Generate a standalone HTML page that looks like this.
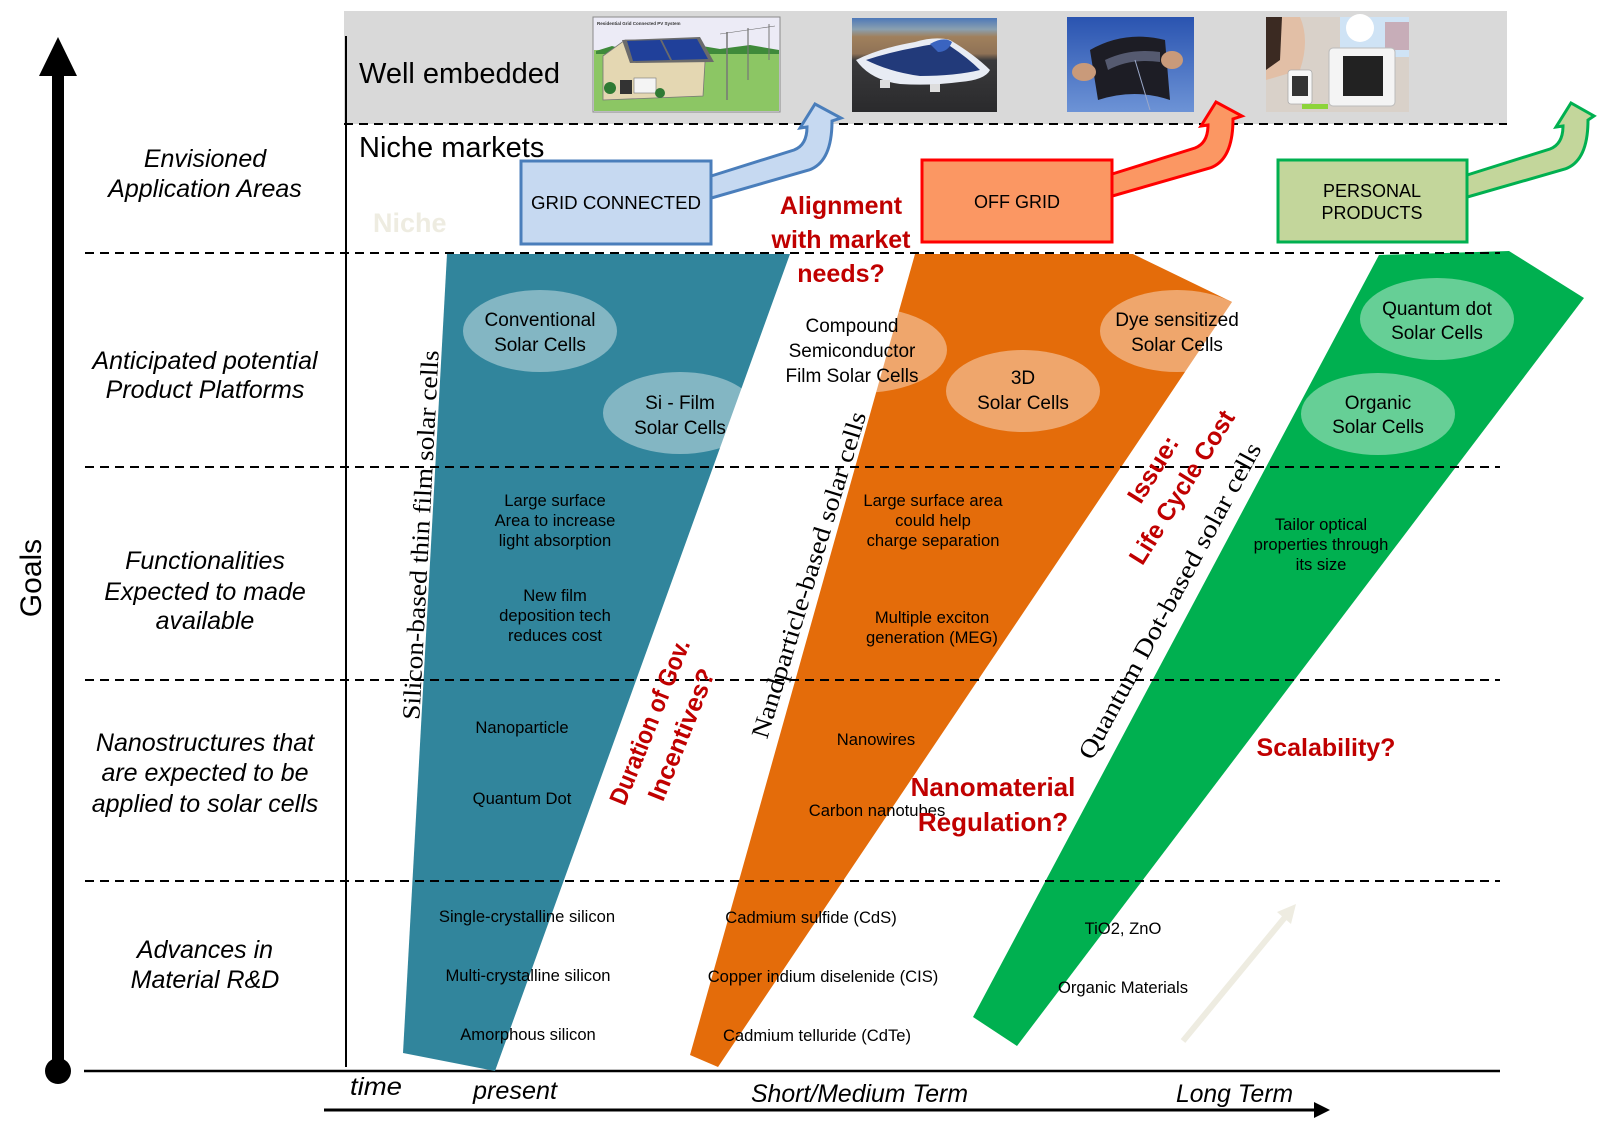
<!DOCTYPE html>
<html>
<head>
<meta charset="utf-8">
<style>
  html,body{margin:0;padding:0;background:#fff;}
  svg{display:block;}
  .sans{font-family:"Liberation Sans",Arial,sans-serif;}
  .serif{font-family:"Liberation Serif","Times New Roman",serif;}
</style>
</head>
<body>
<svg width="1597" height="1123" viewBox="0 0 1597 1123" xmlns="http://www.w3.org/2000/svg">
  <defs>
    <linearGradient id="sky3" x1="0" y1="0" x2="0" y2="1">
      <stop offset="0" stop-color="#2a54b0"/>
      <stop offset="1" stop-color="#6d93d6"/>
    </linearGradient>
    <linearGradient id="sky2" x1="0" y1="0" x2="0" y2="1">
      <stop offset="0" stop-color="#4d78b8"/>
      <stop offset="0.12" stop-color="#8aa0b0"/>
      <stop offset="0.2" stop-color="#a0805c"/>
      <stop offset="0.38" stop-color="#8f7256"/>
      <stop offset="0.45" stop-color="#3a3a3c"/>
      <stop offset="1" stop-color="#2a2a2c"/>
    </linearGradient>
  </defs>

  <!-- Gray well-embedded band -->
  <rect x="344" y="11" width="1163" height="113" fill="#d9d9d9"/>

  <!-- Image 1: residential grid connected -->
  <g>
    <rect x="593" y="17" width="187" height="95" fill="#ecebf6" stroke="#8a8a8a" stroke-width="1"/>
    <rect x="594" y="50" width="185" height="61" fill="#8cc664"/>
    <polygon points="596,51 612,46 626,50 640,45 660,49 690,44 720,49 750,45 779,50 779,54 596,54" fill="#3f8a3a"/>
    <polygon points="603,56 625,40 700,40 705,62 703,96 603,100" fill="#e4d7b2" stroke="#777" stroke-width="0.8"/>
    <polygon points="622,40 700,37 714,62 630,63" fill="#6b6b6b"/>
    <polygon points="627,41 660,40 670,60 633,61" fill="#20409a"/>
    <polygon points="662,40 697,39 708,59 672,60" fill="#20409a"/>
    <rect x="620" y="80" width="12" height="14" fill="#333"/>
    <rect x="634" y="78" width="22" height="15" fill="#f4f4f4" stroke="#777" stroke-width="0.6"/>
    <circle cx="610" cy="88" r="6" fill="#2f7a34"/>
    <circle cx="660" cy="93" r="5" fill="#2f7a34"/>
    <line x1="727" y1="32" x2="727" y2="100" stroke="#777" stroke-width="1.5"/>
    <line x1="748" y1="28" x2="748" y2="80" stroke="#777" stroke-width="1.2"/>
    <line x1="769" y1="24" x2="769" y2="60" stroke="#777" stroke-width="1"/>
    <line x1="720" y1="34" x2="775" y2="26" stroke="#666" stroke-width="0.6"/>
    <text x="597" y="25" class="sans" font-size="4.5" font-weight="bold" fill="#333">Residential Grid Connected PV System</text>
  </g>

  <!-- Image 2: solar car -->
  <g>
    <rect x="852" y="18" width="145" height="94" fill="url(#sky2)"/>
    <path d="M856,60 Q880,48 915,42 Q935,36 950,40 Q975,55 990,70 Q985,80 960,82 Q930,86 900,84 Q870,80 856,60 Z" fill="#e8ecf4"/>
    <path d="M866,60 Q890,52 918,47 Q938,42 950,46 Q968,58 980,70 Q955,76 920,76 Q890,72 866,60 Z" fill="#223a7a"/>
    <path d="M930,44 Q944,36 952,42 Q948,52 938,52 Z" fill="#3a64c0"/>
    <rect x="880" y="80" width="10" height="8" fill="#ddd"/>
    <rect x="930" y="84" width="10" height="8" fill="#ddd"/>
  </g>

  <!-- Image 3: flexible film -->
  <g>
    <rect x="1067" y="17" width="127" height="95" fill="url(#sky3)"/>
    <path d="M1090,50 Q1125,30 1165,40 L1170,100 Q1135,88 1098,100 Z" fill="#1d1d25"/>
    <path d="M1105,60 Q1130,48 1160,52 L1160,62 Q1130,58 1108,70 Z" fill="#555a70"/>
    <line x1="1135" y1="60" x2="1150" y2="110" stroke="#9aa8c8" stroke-width="1"/>
    <ellipse cx="1084" cy="72" rx="12" ry="9" fill="#c99a7a"/>
    <ellipse cx="1172" cy="60" rx="11" ry="9" fill="#c99a7a"/>
  </g>

  <!-- Image 4: personal products -->
  <g>
    <rect x="1266" y="17" width="143" height="95" fill="#d9d1c9"/>
    <rect x="1340" y="17" width="69" height="40" fill="#cfe3f5"/>
    <circle cx="1360" cy="28" r="14" fill="#ffffff"/>
    <path d="M1266,17 L1300,17 Q1310,40 1300,70 L1266,80 Z" fill="#e2bfa6"/>
    <path d="M1266,17 L1282,17 L1280,60 L1266,70 Z" fill="#3b2a22"/>
    <rect x="1385" y="22" width="24" height="28" fill="#c7adb8"/>
    <rect x="1329" y="48" width="66" height="58" rx="4" fill="#f4f4f4" stroke="#bbb" stroke-width="1"/>
    <rect x="1343" y="56" width="40" height="40" fill="#222"/>
    <rect x="1288" y="70" width="24" height="34" rx="3" fill="#f6f6f6" stroke="#aaa" stroke-width="0.8"/>
    <rect x="1292" y="76" width="16" height="20" fill="#333"/>
    <rect x="1302" y="104" width="26" height="5" fill="#8cd43a"/>
  </g>

  <!-- Axes -->
  <line x1="346" y1="36" x2="346" y2="1067" stroke="#000" stroke-width="2"/>
  <line x1="84" y1="1071" x2="1500" y2="1071" stroke="#000" stroke-width="2.5"/>

  <!-- Goals arrow -->
  <rect x="52" y="72" width="12" height="1000" fill="#000"/>
  <polygon points="58,37 39,76 77,76" fill="#000"/>
  <circle cx="58" cy="1071" r="13" fill="#000"/>
  <text transform="translate(41,578) rotate(-90)" text-anchor="middle" class="sans" font-size="30" fill="#000">Goals</text>

  <!-- Time arrow -->
  <line x1="324" y1="1110" x2="1316" y2="1110" stroke="#000" stroke-width="3"/>
  <polygon points="1330,1110 1314,1102 1314,1118" fill="#000"/>

  <!-- Colored trapezoids -->
  <polygon points="447,254 790,254 495,1071 403,1053" fill="#31859c"/>
  <polygon points="915,254 1133,254 1232,302 718,1067 690,1055" fill="#e46c0a"/>
  <polygon points="1379,255 1509,251 1584,298 1017,1046 973,1017" fill="#00b050"/>

  <!-- faint arrow bottom right -->
  <line x1="1183" y1="1041" x2="1286" y2="916" stroke="#eeece1" stroke-width="6"/>
  <polygon points="1296,904 1277,912 1291,924" fill="#eeece1"/>

  <!-- Dashed lines -->
  <g stroke="#000" stroke-width="2" stroke-dasharray="9,6" fill="none">
    <line x1="344" y1="124" x2="1507" y2="124"/>
    <line x1="85" y1="253" x2="1500" y2="253"/>
    <line x1="85" y1="467" x2="1500" y2="467"/>
    <line x1="85" y1="680" x2="1500" y2="680"/>
    <line x1="85" y1="881" x2="1500" y2="881"/>
  </g>

  <!-- Ellipses (semi-transparent white) -->
  <g fill="#ffffff" fill-opacity="0.4">
    <ellipse cx="540" cy="331" rx="77" ry="41"/>
    <ellipse cx="680" cy="413" rx="77" ry="41"/>
    <ellipse cx="860" cy="350" rx="87" ry="43"/>
    <ellipse cx="1023" cy="391" rx="77" ry="41"/>
    <ellipse cx="1177" cy="331" rx="77" ry="41"/>
    <ellipse cx="1437" cy="319" rx="77" ry="41"/>
    <ellipse cx="1378" cy="414" rx="77" ry="41"/>
  </g>

  <!-- Application arrows -->
  <path d="M708 177 L794 150 Q807 145 807 127 L800 128 L815 104 L841 118 L832 121 Q832 162 809 170 L708 199 Z" fill="#c6d9f1" stroke="#4a7ebb" stroke-width="3" stroke-linejoin="miter"/>
  <path d="M1109 175 L1195 148 Q1208 143 1208 125 L1201 126 L1216 102 L1242 116 L1233 119 Q1233 160 1210 168 L1109 197 Z" fill="#fb9763" stroke="#ff0000" stroke-width="3"/>
  <path d="M1464 176 L1550 149 Q1563 144 1563 126 L1556 127 L1571 103 L1594 116 L1588 120 Q1588 161 1565 169 L1464 198 Z" fill="#c3d69b" stroke="#00b050" stroke-width="3"/>

  <!-- Application boxes -->
  <rect x="521" y="161" width="190" height="83" fill="#c6d9f1" stroke="#4a7ebb" stroke-width="3"/>
  <rect x="922" y="160" width="190" height="82" fill="#fb9763" stroke="#ff0000" stroke-width="3"/>
  <rect x="1278" y="160" width="189" height="82" fill="#c3d69b" stroke="#00b050" stroke-width="3"/>

  <g class="sans" font-size="18" fill="#000" text-anchor="middle">
    <text x="616" y="209" textLength="170" lengthAdjust="spacingAndGlyphs">GRID CONNECTED</text>
    <text x="1017" y="208">OFF GRID</text>
    <text x="1372" y="197">PERSONAL</text>
    <text x="1372" y="219">PRODUCTS</text>
  </g>

  <!-- Top band labels -->
  <g class="sans" font-size="29" fill="#000">
    <text x="359" y="83">Well embedded</text>
    <text x="359" y="157">Niche markets</text>
  </g>
  <text x="373" y="232" class="sans" font-size="27" font-weight="bold" fill="#eeece1">Niche</text>

  <!-- Left row labels -->
  <g class="sans" font-size="25" font-style="italic" fill="#000" text-anchor="middle">
    <text x="205" y="167">Envisioned</text>
    <text x="205" y="197">Application Areas</text>
    <text x="205" y="369">Anticipated potential</text>
    <text x="205" y="398">Product Platforms</text>
    <text x="205" y="569">Functionalities</text>
    <text x="205" y="600">Expected to made</text>
    <text x="205" y="629">available</text>
    <text x="205" y="751">Nanostructures that</text>
    <text x="205" y="781">are expected to be</text>
    <text x="205" y="812">applied to solar cells</text>
    <text x="205" y="958">Advances in</text>
    <text x="205" y="988">Material R&amp;D</text>
  </g>

  <!-- Bottom time labels -->
  <g class="sans" font-size="25" font-style="italic" fill="#000">
    <text x="350" y="1095" textLength="52" lengthAdjust="spacingAndGlyphs">time</text>
    <text x="473" y="1099" textLength="84" lengthAdjust="spacingAndGlyphs">present</text>
    <text x="751" y="1102" textLength="217" lengthAdjust="spacingAndGlyphs">Short/Medium Term</text>
    <text x="1176" y="1102" textLength="117" lengthAdjust="spacingAndGlyphs">Long Term</text>
  </g>

  <!-- Ellipse texts -->
  <g class="sans" font-size="19" fill="#000" text-anchor="middle">
    <text x="540" y="326">Conventional</text>
    <text x="540" y="351">Solar Cells</text>
    <text x="680" y="409">Si - Film</text>
    <text x="680" y="434">Solar Cells</text>
    <text x="852" y="332">Compound</text>
    <text x="852" y="357">Semiconductor</text>
    <text x="852" y="382">Film Solar Cells</text>
    <text x="1023" y="384">3D</text>
    <text x="1023" y="409">Solar Cells</text>
    <text x="1177" y="326">Dye sensitized</text>
    <text x="1177" y="351">Solar Cells</text>
    <text x="1437" y="315">Quantum dot</text>
    <text x="1437" y="339">Solar Cells</text>
    <text x="1378" y="409">Organic</text>
    <text x="1378" y="433">Solar Cells</text>
  </g>

  <!-- Small descriptive texts -->
  <g class="sans" font-size="16.6" fill="#000" text-anchor="middle">
    <text x="555" y="506">Large surface</text>
    <text x="555" y="526">Area to increase</text>
    <text x="555" y="546">light absorption</text>
    <text x="555" y="601">New film</text>
    <text x="555" y="621">deposition tech</text>
    <text x="555" y="641">reduces cost</text>
    <text x="522" y="733">Nanoparticle</text>
    <text x="522" y="804">Quantum  Dot</text>
    <text x="527" y="922">Single-crystalline  silicon</text>
    <text x="528" y="981">Multi-crystalline  silicon</text>
    <text x="528" y="1040">Amorphous  silicon</text>

    <text x="933" y="506">Large surface area</text>
    <text x="933" y="526">could help</text>
    <text x="933" y="546">charge separation</text>
    <text x="932" y="623">Multiple exciton</text>
    <text x="932" y="643">generation (MEG)</text>
    <text x="876" y="745">Nanowires</text>
    <text x="877" y="816">Carbon nanotubes</text>
    <text x="811" y="923">Cadmium sulfide (CdS)</text>
    <text x="823" y="982">Copper indium diselenide (CIS)</text>
    <text x="817" y="1041">Cadmium telluride (CdTe)</text>

    <text x="1321" y="530">Tailor optical</text>
    <text x="1321" y="550">properties through</text>
    <text x="1321" y="570">its size</text>
    <text x="1123" y="934">TiO2,  ZnO</text>
    <text x="1123" y="993">Organic Materials</text>
  </g>

  <!-- Rotated serif category labels -->
  <g class="serif" font-size="25" fill="#000" text-anchor="middle">
    <text transform="translate(421,535) rotate(-87)" dy="8" textLength="370" lengthAdjust="spacingAndGlyphs">Silicon-based thin film solar cells</text>
    <text transform="translate(809,575) rotate(-73)" dy="8" textLength="340" lengthAdjust="spacingAndGlyphs">Nandparticle-based solar cells</text>
    <text transform="translate(1170,601) rotate(-61.5)" dy="8" textLength="356" lengthAdjust="spacingAndGlyphs">Quantum Dot-based solar cells</text>
  </g>

  <!-- Red issue labels -->
  <g class="sans" font-size="25" font-weight="bold" fill="#c00000" text-anchor="middle">
    <text x="841" y="214">Alignment</text>
    <text x="841" y="248">with market</text>
    <text x="841" y="282">needs?</text>
    <text x="993" y="796" font-size="26">Nanomaterial</text>
    <text x="993" y="831" font-size="26">Regulation?</text>
    <text x="1326" y="756">Scalability?</text>
    <g transform="translate(665,728) rotate(-68)">
      <text x="0" y="-8" textLength="176" lengthAdjust="spacingAndGlyphs">Duration of Gov.</text>
      <text x="0" y="26" textLength="140" lengthAdjust="spacingAndGlyphs">Incentives?</text>
    </g>
    <g transform="translate(1167,478) rotate(-58)">
      <text x="0" y="-8" textLength="74" lengthAdjust="spacingAndGlyphs">Issue:</text>
      <text x="0" y="26" textLength="176" lengthAdjust="spacingAndGlyphs">Life Cycle Cost</text>
    </g>
  </g>
</svg>
</body>
</html>
